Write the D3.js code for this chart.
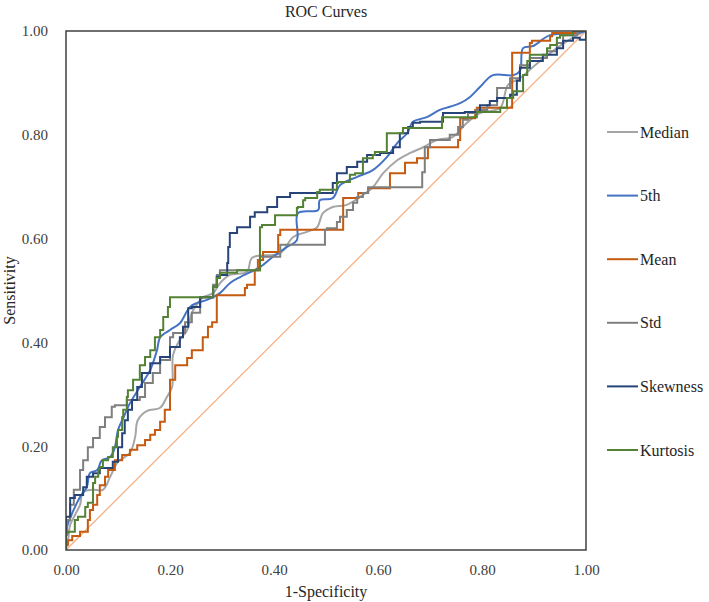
<!DOCTYPE html>
<html>
<head>
<meta charset="utf-8">
<script src="https://cdn.jsdelivr.net/npm/d3@7"></script>
<style>
  html, body { margin: 0; padding: 0; background: #fff; }
  svg { display: block; font-family: "Liberation Serif", "Times New Roman", serif; }
</style>
</head>
<body>
<svg id="chart" width="709" height="602"></svg>
<script>
// ---------- data ----------
const seriesNames = ["Median", "5th", "Mean", "Std", "Skewness", "Kurtosis"];
const tickValues = [0, 0.2, 0.4, 0.6, 0.8, 1.0];

const medianFpr = [0,0.004,0.008,0.017,0.027,0.033,0.052,0.071,0.085,0.100,0.123,0.133,0.138,0.156,0.181,0.194,0.204,0.206,0.219,0.233,0.242,0.254,0.263,0.283,0.296,0.315,0.348,0.358,0.412,0.437,0.463,0.483,0.494,0.513,0.540,0.565,0.590,0.610,0.637,0.662,0.687,0.713,0.744,0.771,0.796,0.835,0.850,0.873,0.902,0.944,0.983,1];
const medianTpr = [0,0.019,0.048,0.067,0.087,0.112,0.116,0.116,0.141,0.170,0.187,0.218,0.250,0.268,0.274,0.295,0.314,0.376,0.405,0.424,0.457,0.476,0.487,0.495,0.514,0.530,0.536,0.563,0.572,0.603,0.613,0.622,0.649,0.661,0.665,0.680,0.699,0.726,0.751,0.765,0.776,0.790,0.796,0.823,0.842,0.852,0.896,0.909,0.934,0.967,0.992,1];

const p5Fpr = [0,0.002,0.012,0.027,0.040,0.046,0.060,0.069,0.085,0.094,0.100,0.110,0.123,0.142,0.162,0.175,0.181,0.200,0.219,0.238,0.252,0.271,0.296,0.315,0.335,0.373,0.398,0.425,0.444,0.446,0.485,0.488,0.513,0.527,0.560,0.590,0.617,0.637,0.656,0.667,0.694,0.719,0.738,0.758,0.777,0.796,0.821,0.860,0.873,0.879,0.898,0.931,0.983,1];
const p5Tpr = [0,0.044,0.071,0.102,0.121,0.148,0.154,0.173,0.179,0.198,0.231,0.254,0.283,0.314,0.347,0.385,0.410,0.424,0.437,0.468,0.476,0.482,0.495,0.514,0.526,0.545,0.565,0.584,0.597,0.649,0.655,0.674,0.678,0.703,0.719,0.732,0.757,0.784,0.803,0.825,0.834,0.848,0.854,0.861,0.873,0.892,0.915,0.915,0.923,0.967,0.971,0.992,0.996,1];

const meanFpr = [0,0.004,0.012,0.027,0.042,0.046,0.052,0.060,0.065,0.075,0.081,0.094,0.108,0.123,0.137,0.152,0.162,0.171,0.181,0.190,0.200,0.200,0.210,0.233,0.242,0.263,0.273,0.281,0.290,0.290,0.344,0.348,0.363,0.369,0.379,0.408,0.412,0.533,0.533,0.562,0.581,0.623,0.623,0.652,0.675,0.696,0.700,0.754,0.758,0.787,0.790,0.858,0.858,0.892,0.896,0.931,0.935,0.983,1];
const meanTpr = [0,0.010,0.019,0.027,0.035,0.058,0.077,0.087,0.106,0.125,0.141,0.154,0.173,0.183,0.193,0.202,0.212,0.222,0.231,0.247,0.270,0.302,0.328,0.356,0.370,0.385,0.410,0.430,0.439,0.487,0.491,0.505,0.511,0.539,0.559,0.574,0.607,0.617,0.671,0.678,0.688,0.697,0.723,0.726,0.746,0.755,0.776,0.776,0.790,0.832,0.848,0.852,0.954,0.958,0.977,0.981,0.990,0.996,1];

const stdFpr = [0,0.002,0.008,0.015,0.027,0.033,0.042,0.052,0.065,0.075,0.088,0.094,0.117,0.142,0.152,0.167,0.181,0.200,0.206,0.229,0.242,0.258,0.262,0.283,0.290,0.296,0.373,0.377,0.412,0.415,0.498,0.502,0.521,0.527,0.540,0.552,0.560,0.571,0.581,0.685,0.685,0.690,0.700,0.738,0.754,0.763,0.773,0.790,0.810,0.829,0.854,0.873,0.892,0.925,0.944,0.956,0.983,1];
const stdTpr = [0,0.029,0.058,0.087,0.116,0.154,0.173,0.198,0.216,0.237,0.256,0.276,0.279,0.289,0.295,0.322,0.341,0.366,0.410,0.418,0.439,0.457,0.486,0.487,0.511,0.530,0.539,0.565,0.565,0.588,0.588,0.617,0.620,0.632,0.642,0.655,0.669,0.680,0.688,0.699,0.719,0.728,0.776,0.790,0.800,0.815,0.829,0.842,0.848,0.857,0.890,0.909,0.934,0.948,0.961,0.977,0.992,1];

const skewFpr = [0,0,0.008,0.017,0.033,0.040,0.052,0.065,0.090,0.100,0.108,0.113,0.119,0.127,0.137,0.146,0.162,0.181,0.200,0.219,0.225,0.235,0.242,0.258,0.283,0.290,0.296,0.310,0.312,0.315,0.329,0.354,0.363,0.387,0.406,0.431,0.450,0.513,0.521,0.540,0.560,0.579,0.604,0.629,0.642,0.658,0.667,0.681,0.725,0.767,0.796,0.815,0.829,0.854,0.867,0.873,0.892,0.917,0.944,0.956,0.975,0.988,1,1];
const skewTpr = [0,0.044,0.064,0.100,0.106,0.121,0.141,0.148,0.158,0.170,0.198,0.225,0.250,0.270,0.289,0.314,0.341,0.360,0.372,0.391,0.410,0.430,0.466,0.468,0.487,0.507,0.526,0.530,0.553,0.584,0.611,0.622,0.642,0.651,0.661,0.680,0.688,0.688,0.707,0.726,0.738,0.748,0.761,0.765,0.776,0.803,0.815,0.823,0.825,0.842,0.844,0.857,0.865,0.871,0.877,0.904,0.929,0.942,0.954,0.967,0.981,0.987,0.983,1];

const kurtFpr = [0,0,0.004,0.017,0.023,0.037,0.042,0.052,0.056,0.062,0.065,0.071,0.081,0.090,0.098,0.100,0.108,0.110,0.117,0.119,0.129,0.142,0.152,0.162,0.171,0.181,0.187,0.196,0.200,0.204,0.283,0.290,0.296,0.329,0.373,0.377,0.402,0.406,0.444,0.446,0.456,0.460,0.483,0.488,0.521,0.523,0.546,0.556,0.571,0.571,0.590,0.594,0.617,0.617,0.648,0.656,0.723,0.723,0.790,0.835,0.848,0.860,0.879,0.879,0.887,0.892,0.925,0.931,0.944,0.950,0.975,0.983,1];
const kurtTpr = [0,0.006,0.033,0.035,0.058,0.064,0.083,0.091,0.129,0.141,0.154,0.160,0.173,0.179,0.198,0.218,0.231,0.256,0.270,0.295,0.308,0.328,0.356,0.372,0.385,0.410,0.424,0.449,0.468,0.487,0.487,0.507,0.524,0.534,0.539,0.622,0.626,0.645,0.645,0.659,0.661,0.674,0.678,0.690,0.694,0.707,0.709,0.723,0.726,0.751,0.755,0.761,0.767,0.800,0.803,0.813,0.813,0.832,0.834,0.844,0.852,0.871,0.884,0.909,0.915,0.942,0.954,0.967,0.973,0.987,0.992,1,1];

const refFpr = [0, 1];
const refTpr = [0, 1];

// ---------- layout ----------
const svg = d3.select("#chart");
const margin = { left: 66, top: 31, right: 123, bottom: 52 };
const W = 709, H = 602;
const x = d3.scaleLinear().domain([0, 1]).range([margin.left, W - margin.right]);
const y = d3.scaleLinear().domain([0, 1]).range([H - margin.bottom, margin.top]);

const styles = {
  "Median":   { color: "#a5a5a5", curve: d3.curveCatmullRom.alpha(0.5), fpr: medianFpr, tpr: medianTpr },
  "5th":      { color: "#4472c4", curve: d3.curveCatmullRom.alpha(0.5), fpr: p5Fpr, tpr: p5Tpr },
  "Mean":     { color: "#c55a11", curve: d3.curveStepBefore, fpr: meanFpr, tpr: meanTpr },
  "Std":      { color: "#7f7f7f", curve: d3.curveStepBefore, fpr: stdFpr, tpr: stdTpr },
  "Skewness": { color: "#264478", curve: d3.curveStepBefore, fpr: skewFpr, tpr: skewTpr },
  "Kurtosis": { color: "#548235", curve: d3.curveStepBefore, fpr: kurtFpr, tpr: kurtTpr }
};

// title
svg.append("text")
  .attr("x", (x(0) + x(1)) / 2).attr("y", 17)
  .attr("text-anchor", "middle")
  .attr("font-size", 16).attr("fill", "#262626")
  .text("ROC Curves");

// axes (labels only)
const xAxis = d3.axisBottom(x).tickValues(tickValues).tickFormat(d3.format(".2f")).tickSize(0).tickPadding(14);
const yAxis = d3.axisLeft(y).tickValues(tickValues).tickFormat(d3.format(".2f")).tickSize(0).tickPadding(18);

const gx = svg.append("g").attr("transform", `translate(0,${y(0)})`).call(xAxis);
const gy = svg.append("g").attr("transform", `translate(${x(0)},0)`).call(yAxis);
[gx, gy].forEach(g => {
  g.select(".domain").remove();
  g.selectAll("text").attr("font-size", 15).attr("fill", "#404040")
    .attr("font-family", "Liberation Serif, Times New Roman, serif");
});

// axis titles
svg.append("text")
  .attr("x", (x(0) + x(1)) / 2).attr("y", 597)
  .attr("text-anchor", "middle").attr("font-size", 16).attr("fill", "#262626")
  .text("1-Specificity");
svg.append("text")
  .attr("transform", `translate(15,${(y(0) + y(1)) / 2}) rotate(-90)`)
  .attr("text-anchor", "middle").attr("font-size", 16).attr("fill", "#262626")
  .text("Sensitivity");

// clip
svg.append("clipPath").attr("id", "plotclip")
  .append("rect").attr("x", x(0)).attr("y", y(1)).attr("width", x(1) - x(0)).attr("height", y(0) - y(1));

const plot = svg.append("g").attr("clip-path", "url(#plotclip)");

// reference diagonal
const lineGen = d3.line().x(d => x(d[0])).y(d => y(d[1]));
plot.append("path")
  .datum(d3.zip(refFpr, refTpr))
  .attr("d", lineGen)
  .attr("fill", "none").attr("stroke", "#f4b183").attr("stroke-width", 1.3);

// series
const drawOrder = ["Median", "5th", "Mean", "Std", "Skewness", "Kurtosis"];
drawOrder.forEach(name => {
  const s = styles[name];
  const gen = d3.line().x(d => x(d[0])).y(d => y(d[1])).curve(s.curve);
  plot.append("path")
    .datum(d3.zip(s.fpr, s.tpr))
    .attr("d", gen)
    .attr("fill", "none").attr("stroke", s.color).attr("stroke-width", 2)
    .attr("stroke-linejoin", "miter");
});

// frame
svg.append("rect")
  .attr("x", x(0)).attr("y", y(1)).attr("width", x(1) - x(0)).attr("height", y(0) - y(1))
  .attr("fill", "none").attr("stroke", "#404040").attr("stroke-width", 1.5);

// legend
const legendY = d3.scalePoint().domain(seriesNames).range([132, 450]);
const lg = svg.append("g");
seriesNames.forEach(name => {
  const yy = legendY(name);
  lg.append("line").attr("x1", 607).attr("x2", 638).attr("y1", yy).attr("y2", yy)
    .attr("stroke", styles[name].color).attr("stroke-width", 2);
  lg.append("text").attr("x", 640).attr("y", yy).attr("dy", "0.35em")
    .attr("font-size", 16).attr("fill", "#262626").text(name);
});
</script>
</body>
</html>
